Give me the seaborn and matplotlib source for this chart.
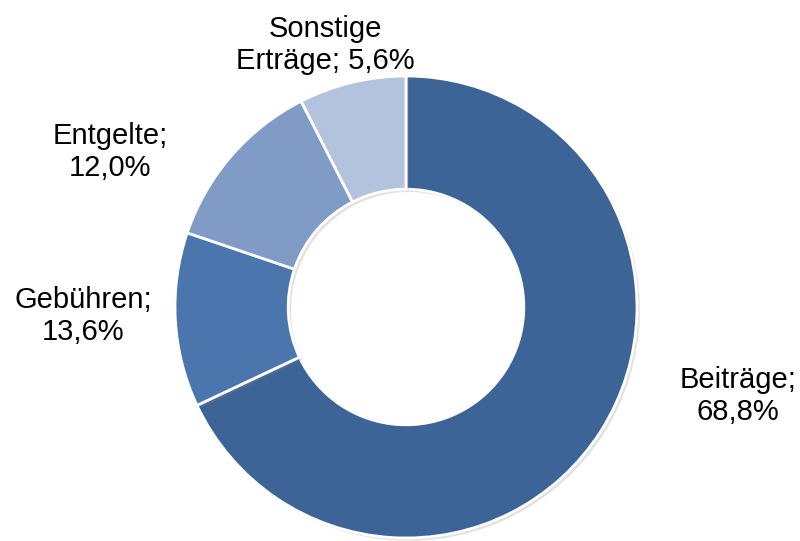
import matplotlib
matplotlib.use("Agg")
import matplotlib.pyplot as plt
import matplotlib.patheffects as pe
import seaborn as sns

categories = ["Beiträge", "Gebühren", "Entgelte", "Sonstige\nErträge"]
# percentages printed in the labels
label_values = [68.8, 13.6, 12.0, 5.6]
# wedge shares as drawn in the picture (measured from the ring angles)
wedge_shares = [68.0, 12.2, 12.3, 7.5]
colors = ["#3D6496", "#4A76AD", "#7F9BC6", "#B4C3DD"]

sns.set_theme(style="white")
plt.rcParams["font.family"] = ["Liberation Sans", "DejaVu Sans"]

fig = plt.figure(figsize=(8, 5.41), dpi=100)
ax = fig.add_axes([0, 0, 1, 1])
R = 231.0
cx, cy = 406.0, 307.0

wedges, _ = ax.pie(wedge_shares, colors=sns.color_palette(colors), startangle=90,
                   counterclock=False, radius=1.0,
                   wedgeprops=dict(width=0.49, edgecolor="white", linewidth=2))
for w in wedges:
    w.set_path_effects([pe.SimplePatchShadow(offset=(2, -2), alpha=0.25, shadow_rgbFace="#888888"),
                        pe.Normal()])

ax.set_aspect("auto")
ax.set_xlim(-cx / R, (800 - cx) / R)
ax.set_ylim(-(541 - cy) / R, cy / R)
ax.axis("off")

def fmt(v):
    return f"{v:.1f}".replace(".", ",") + "%"

label_px = [(738, 396), (83, 316), (110, 152), (325, 45)]
texts = [
    f"{categories[0]};\n{fmt(label_values[0])}",
    f"{categories[1]};\n{fmt(label_values[1])}",
    f"{categories[2]};\n{fmt(label_values[2])}",
    f"{categories[3]}; {fmt(label_values[3])}",
]
for (px, py), t in zip(label_px, texts):
    ax.text((px - cx) / R, (cy - py) / R, t, ha="center", va="center",
            fontsize=21, color="black", linespacing=1.15)

fig.savefig("out.png", dpi=100)
